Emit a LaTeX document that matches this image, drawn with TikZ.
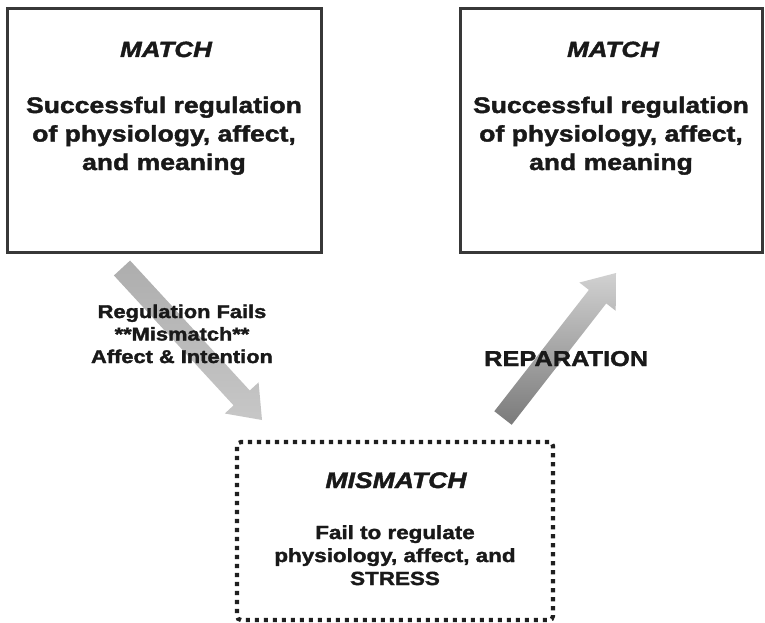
\documentclass[tikz,border=0pt]{standalone}
\usepackage{fontspec}
\setmainfont{Liberation Sans}[FakeStretch=1.18, BoldFeatures={FakeBold=1.8}, BoldItalicFeatures={FakeBold=1.8}]
\usetikzlibrary{calc}
\tikzset{
  solidbox/.style={draw=black!78, line width=3pt, minimum width=#1, inner sep=0pt},
  dotbox/.style={draw=black!88, line width=4.2pt, dash pattern=on 4.2pt off 4.8pt, rounded corners=4pt, inner sep=0pt},
  txt/.style={align=center, anchor=base, inner sep=0pt, text=black!90},
  fatarrow/.style={draw=none},
}
\newcommand{\fatarrowpath}[4]{% start, end, style
  \coordinate (fab) at ($(#2)!30pt!(#1)$);
  \path[#3] ($(#1)!11pt!90:(#2)$) -- ($(fab)!11pt!90:(#2)$)
    -- ($(fab)!23pt!90:(#2)$) -- (#2)
    -- ($(fab)!23pt!-90:(#2)$) -- ($(fab)!11pt!-90:(#2)$)
    -- ($(#1)!11pt!-90:(#2)$) -- cycle;}
\begin{document}
\begin{tikzpicture}[x=1pt,y=-1pt]
\useasboundingbox (0,0) rectangle (765,623);
% boxes
\node[solidbox=314pt, minimum height=243pt] (m1) at (164,130.5) {};
\node[solidbox=302pt, minimum height=243pt] (m2) at (611,130.5) {};
\node[dotbox, minimum width=316pt, minimum height=178pt] (mm) at (395,531) {};
% texts (base anchor = last line's baseline)
\node[txt, font=\fontsize{22}{24}\selectfont\bfseries\itshape] (t1) at (166,57) {MATCH};
\node[txt, font=\fontsize{22.5}{28.5}\selectfont\bfseries] (b1) at (164,170) {Successful regulation\\of physiology, affect,\\and meaning};
\node[txt, font=\fontsize{22}{24}\selectfont\bfseries\itshape] (t2) at (613,57) {MATCH};
\node[txt, font=\fontsize{22.5}{28.5}\selectfont\bfseries] (b2) at (611,170) {Successful regulation\\of physiology, affect,\\and meaning};
\node[txt, font=\fontsize{22.5}{24}\selectfont\bfseries\itshape] (t3) at (396,488) {MISMATCH};
\node[txt, font=\fontsize{19}{23}\selectfont\bfseries] (b3) at (395,585) {Fail to regulate\\physiology, affect, and\\STRESS};
% arrows
\coordinate (a1s) at (122,268);
\coordinate (a1e) at (262,420);
\coordinate (a2s) at (503,418);
\coordinate (a2e) at (616,273);
\fatarrowpath{a1s}{a1e}{top color=black!32, bottom color=black!22, fatarrow}{}
\fatarrowpath{a2s}{a2e}{top color=black!18, bottom color=black!52, fatarrow}{}
% labels
\node[txt, font=\fontsize{18.5}{22.5}\selectfont\bfseries] (l1) at (182,363) {Regulation Fails\\**Mismatch**\\Affect \& Intention};
\node[txt, anchor=base west, font=\fontsize{21.5}{24}\selectfont\bfseries] (l2) at (484,366) {REPARATION};
\end{tikzpicture}
\end{document}
